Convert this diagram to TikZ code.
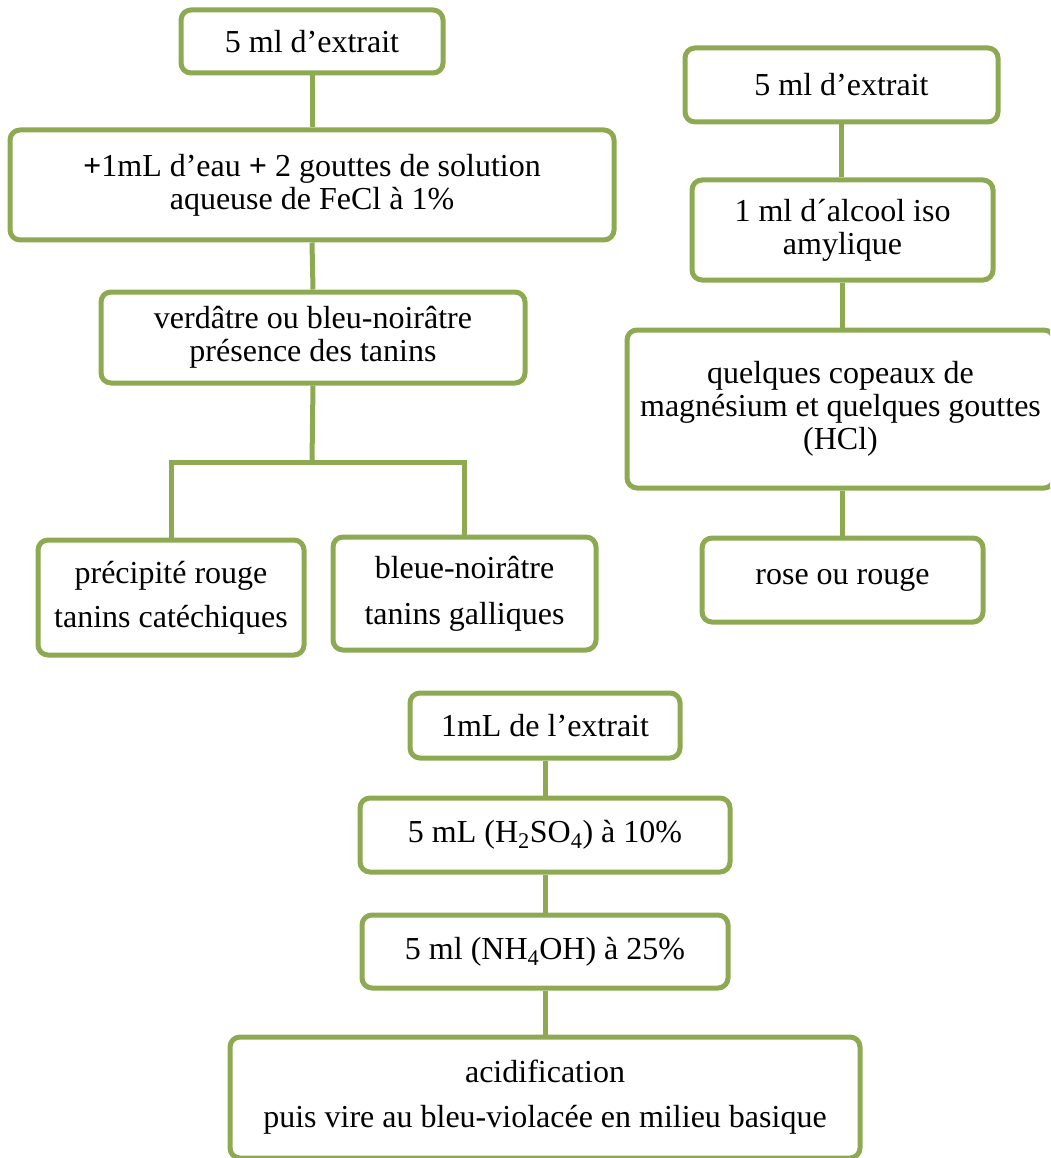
\documentclass[tikz,border=0pt]{standalone}
\usepackage{fontspec}
\setmainfont{Liberation Serif}
\definecolor{olivegrn}{RGB}{141,170,82}
\newcommand\flowbox[6]{%
  \node[box,minimum width={#4pt-#2pt},minimum height={#5pt-#3pt}] (#1) at ({(#2+#4)/2},{(#3+#5)/2}) {#6};}
\newcommand\bplus{\textbf{+}}
\begin{document}
\begin{tikzpicture}[x=1pt,y=-1pt,
  box/.style={draw=olivegrn,line width=5pt,rounded corners=10pt,fill=white,
    align=center,inner sep=0pt,font=\fontsize{32}{33}\selectfont},
  link/.style={draw=olivegrn,line width=5pt}]
\useasboundingbox (0,0) rectangle (1050,1158);
\clip (0,0) rectangle (1050,1158);
% left column
\flowbox{A1}{181}{10}{443}{73}{5 ml d’extrait}
\flowbox{A2}{10}{130}{614}{240}{\bplus1mL d’eau \bplus{} 2 gouttes de solution\\aqueuse de FeCl à 1\%}
\flowbox{A3}{101}{292}{525}{383}{verdâtre ou bleu-noirâtre\\présence des tanins}
\flowbox{B1}{38}{540}{304}{655}{précipité rouge\\[11pt]tanins catéchiques}
\flowbox{B2}{333}{537}{596}{650}{bleue-noirâtre\\[13pt]tanins galliques}
\coordinate (J) at (312,462);
% right column
\flowbox{C1}{685}{48}{998}{122}{5 ml d’extrait}
\flowbox{C2}{692}{180}{993}{280}{1 ml d´alcool iso\\amylique}
\flowbox{C3}{627}{330}{1054}{488}{quelques copeaux de\\magnésium et quelques gouttes\\(HCl)}
\flowbox{C4}{702}{538}{983}{622}{rose ou rouge}
% bottom column
\flowbox{D1}{410}{693}{680}{758}{1mL de l’extrait}
\flowbox{D2}{360}{798}{730}{872}{5 mL (H\textsubscript{2}SO\textsubscript{4}) à 10\%}
\flowbox{D3}{362}{915}{728}{988}{5 ml (NH\textsubscript{4}OH) à 25\%}
\flowbox{D4}{230}{1037}{860}{1158}{acidification\\[12pt]puis vire au bleu-violacée en milieu basique}
% connectors
\draw[link] (A1.south) -- (A2.north);
\draw[link] (A2.south) -- (A3.north);
\draw[link] (A3.south) -- (J);
\draw[link] (B1.north) |- (J) -| (B2.north);
\draw[link] (C1.south) -- (C1.south |- C2.north);
\draw[link] (C2.south) -- (C2.south |- C3.north);
\draw[link] (C4.north) -- (C4.north |- C3.south);
\draw[link] (D1.south) -- (D2.north);
\draw[link] (D2.south) -- (D3.north);
\draw[link] (D3.south) -- (D4.north);
\end{tikzpicture}
\end{document}
